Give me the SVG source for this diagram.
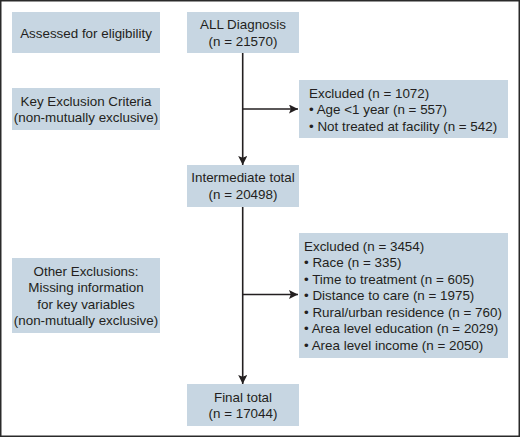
<svg xmlns="http://www.w3.org/2000/svg" width="520" height="438" viewBox="0 0 520 438">
<defs>
<style>
.box{fill:#c7d6e2;}
text{font-family:"Liberation Sans",Arial,sans-serif;font-size:13.4px;fill:#231f20;}
.c{text-anchor:middle;}
.ln{stroke:#231f20;stroke-width:1.6;fill:none;}
</style>
<marker id="ah" viewBox="0 0 10 10" refX="10" refY="5" markerWidth="10" markerHeight="9" markerUnits="userSpaceOnUse" orient="auto">
<path d="M0,0 L10,5 L0,10 L2,5 Z" fill="#231f20"/>
</marker>
</defs>
<rect x="0" y="0" width="520" height="438" fill="#fff"/>
<rect x="0.75" y="0.75" width="518.5" height="435.5" fill="none" stroke="#2a2a2a" stroke-width="1.5"/>
<g id="connectors">
<line class="ln" x1="242.7" y1="53" x2="242.7" y2="165" marker-end="url(#ah)"/>
<line class="ln" x1="242.7" y1="109" x2="298" y2="109" marker-end="url(#ah)"/>
<line class="ln" x1="242.7" y1="207" x2="242.7" y2="384" marker-end="url(#ah)"/>
<line class="ln" x1="242.7" y1="294.5" x2="298" y2="294.5" marker-end="url(#ah)"/>
</g>
<g id="assessed">
<rect class="box" x="12" y="12" width="148" height="41"/>
<text class="c" x="86" y="37.5">Assessed for eligibility</text>
</g>
<g id="key-exclusion">
<rect class="box" x="12" y="88" width="148" height="42"/>
<text class="c" x="86" y="105.5">Key Exclusion Criteria</text>
<text class="c" x="86" y="122">(non-mutually exclusive)</text>
</g>
<g id="other-exclusions">
<rect class="box" x="12" y="258" width="148" height="75"/>
<text class="c" x="86" y="275.5">Other Exclusions:</text>
<text class="c" x="86" y="292">Missing information</text>
<text class="c" x="86" y="308.5">for key variables</text>
<text class="c" x="86" y="325">(non-mutually exclusive)</text>
</g>
<g id="all-diagnosis">
<rect class="box" x="187" y="12" width="112" height="41"/>
<text class="c" x="243" y="28.5">ALL Diagnosis</text>
<text class="c" x="243" y="46">(n = 21570)</text>
</g>
<g id="excluded-1">
<rect class="box" x="299" y="80" width="209" height="58"/>
<text x="309" y="97.5">Excluded (n = 1072)</text>
<text x="309" y="114">• Age &lt;1 year (n = 557)</text>
<text x="309" y="130.5">• Not treated at facility (n = 542)</text>
</g>
<g id="intermediate">
<rect class="box" x="187" y="165" width="112" height="42"/>
<text class="c" x="243" y="182">Intermediate total</text>
<text class="c" x="243" y="199">(n = 20498)</text>
</g>
<g id="excluded-2">
<rect class="box" x="299" y="233" width="209" height="125"/>
<text x="304" y="250.7">Excluded (n = 3454)</text>
<text x="304" y="267.2">• Race (n = 335)</text>
<text x="304" y="283.7">• Time to treatment (n = 605)</text>
<text x="304" y="300.2">• Distance to care (n = 1975)</text>
<text x="304" y="316.7">• Rural/urban residence (n = 760)</text>
<text x="304" y="333.2">• Area level education (n = 2029)</text>
<text x="304" y="349.7">• Area level income (n = 2050)</text>
</g>
<g id="final-total">
<rect class="box" x="187" y="384" width="112" height="42"/>
<text class="c" x="243" y="401.5">Final total</text>
<text class="c" x="243" y="418">(n = 17044)</text>
</g>
</svg>
